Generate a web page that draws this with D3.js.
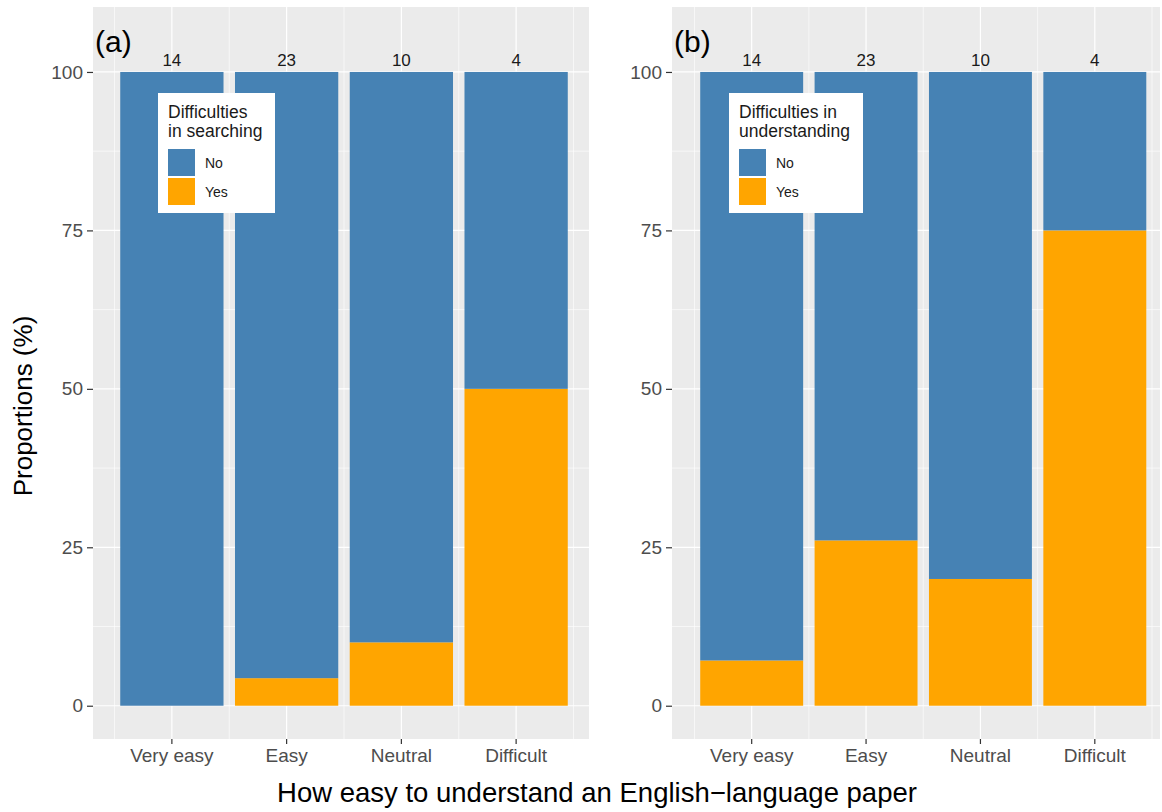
<!DOCTYPE html>
<html>
<head>
<meta charset="utf-8">
<script src="https://cdn.jsdelivr.net/npm/d3@7"></script>
<style>
  html, body { margin: 0; padding: 0; background: #fff; }
  svg { display: block; font-family: "Liberation Sans", Arial, sans-serif; }
</style>
</head>
<body>
<svg id="chart" width="1162" height="812"></svg>
<script>
// Ease of understanding categories and respondent counts
const categories = ["Very easy", "Easy", "Neutral", "Difficult"];
const totals = [14, 23, 10, 4];
// Respondents answering "Yes" in each group
const yesSearching = [0, 1, 1, 2];
const yesUnderstanding = [1, 6, 2, 3];
const yTicks = [0, 25, 50, 75, 100];
const yMinor = [12.5, 37.5, 62.5, 87.5];
const responses = ["No", "Yes"];
const fillColors = { No: "#4682B4", Yes: "#FFA500" };

const panels = [
  { tag: "(a)", yes: yesSearching, legendTitle: ["Difficulties", "in searching"],
    bgX: [93, 589], band: [114.5, 573.5], legend: { x: 158, w: 117 } },
  { tag: "(b)", yes: yesUnderstanding, legendTitle: ["Difficulties in", "understanding"],
    bgX: [672, 1160], band: [694.5, 1152], legend: { x: 729, w: 134 } }
];

const svg = d3.select("#chart");
const y = d3.scaleLinear().domain([-5.25, 110.25]).range([739, 7]);

panels.forEach(p => {
  const g = svg.append("g");
  const x = d3.scaleBand().domain(categories).range(p.band).paddingInner(0.1).paddingOuter(0.05);
  const step = x.step();
  const center = c => x(c) + x.bandwidth() / 2;

  // panel background
  g.append("rect").attr("x", p.bgX[0]).attr("y", y(110.25))
    .attr("width", p.bgX[1] - p.bgX[0]).attr("height", y(-5.25) - y(110.25))
    .attr("fill", "#EBEBEB");

  // minor grid
  yMinor.forEach(v => g.append("line").attr("x1", p.bgX[0]).attr("x2", p.bgX[1])
    .attr("y1", y(v)).attr("y2", y(v)).attr("stroke", "#fff").attr("stroke-width", 0.6));
  const minorX = [p.band[0]].concat(categories.map(c => center(c) + step / 2));
  minorX.forEach(v => g.append("line").attr("x1", v).attr("x2", v)
    .attr("y1", y(110.25)).attr("y2", y(-5.25)).attr("stroke", "#fff").attr("stroke-width", 0.6));
  // major grid
  yTicks.forEach(v => g.append("line").attr("x1", p.bgX[0]).attr("x2", p.bgX[1])
    .attr("y1", y(v)).attr("y2", y(v)).attr("stroke", "#fff").attr("stroke-width", 1.2));
  categories.forEach(c => g.append("line").attr("x1", center(c)).attr("x2", center(c))
    .attr("y1", y(110.25)).attr("y2", y(-5.25)).attr("stroke", "#fff").attr("stroke-width", 1.2));

  // stacked proportions
  const rows = categories.map((c, i) => ({
    cat: c, Yes: 100 * p.yes[i] / totals[i], No: 100 - 100 * p.yes[i] / totals[i]
  }));
  const stacked = d3.stack().keys(["Yes", "No"])(rows);
  stacked.forEach(layer => {
    g.selectAll(null).data(layer).enter().append("rect")
      .attr("x", d => x(d.data.cat)).attr("width", x.bandwidth())
      .attr("y", d => y(d[1])).attr("height", d => y(d[0]) - y(d[1]))
      .attr("fill", fillColors[layer.key]);
  });

  // counts above bars
  g.selectAll(null).data(categories).enter().append("text")
    .attr("x", c => center(c)).attr("y", y(100) - 6)
    .attr("text-anchor", "middle").attr("font-size", 17).attr("fill", "#1a1a1a")
    .text((c, i) => totals[i]);

  // panel tag
  g.append("text").attr("x", p.bgX[0] + 2).attr("y", 52)
    .attr("font-size", 30).attr("fill", "#000").text(p.tag);

  // axes
  const yAxis = d3.axisLeft(y).tickValues(yTicks).tickSize(6).tickPadding(4);
  const ya = g.append("g").attr("transform", `translate(${p.bgX[0]},0)`).call(yAxis);
  const xAxis = d3.axisBottom(x).tickSize(5).tickPadding(5);
  const xa = g.append("g").attr("transform", `translate(0,${y(-5.25)})`).call(xAxis);
  [ya, xa].forEach(a => {
    a.select(".domain").remove();
    a.selectAll(".tick line").attr("stroke", "#333").attr("stroke-width", 1.2);
    a.selectAll(".tick text").attr("fill", "#4D4D4D").attr("font-size", 19)
      .attr("font-family", "'Liberation Sans', Arial, sans-serif");
  });

  // legend
  const L = g.append("g").attr("transform", `translate(${p.legend.x},93)`);
  L.append("rect").attr("width", p.legend.w).attr("height", 120).attr("fill", "#fff");
  p.legendTitle.forEach((t, i) => L.append("text").attr("x", 10).attr("y", 25 + i * 19)
    .attr("font-size", 17.5).attr("fill", "#1a1a1a").text(t));
  responses.forEach((r, i) => {
    L.append("rect").attr("x", 10).attr("y", 56 + i * 29).attr("width", 27).attr("height", 27)
      .attr("fill", fillColors[r]);
    L.append("text").attr("x", 47).attr("y", 75 + i * 29).attr("font-size", 14)
      .attr("fill", "#1a1a1a").text(r);
  });
});

// shared axis titles
svg.append("text").attr("transform", "translate(32,406) rotate(-90)")
  .attr("text-anchor", "middle").attr("font-size", 26).attr("fill", "#000")
  .text("Proportions (%)");
svg.append("text").attr("x", 597).attr("y", 802)
  .attr("text-anchor", "middle").attr("font-size", 27.5).attr("fill", "#000")
  .text("How easy to understand an English\u2212language paper");
</script>
</body>
</html>
